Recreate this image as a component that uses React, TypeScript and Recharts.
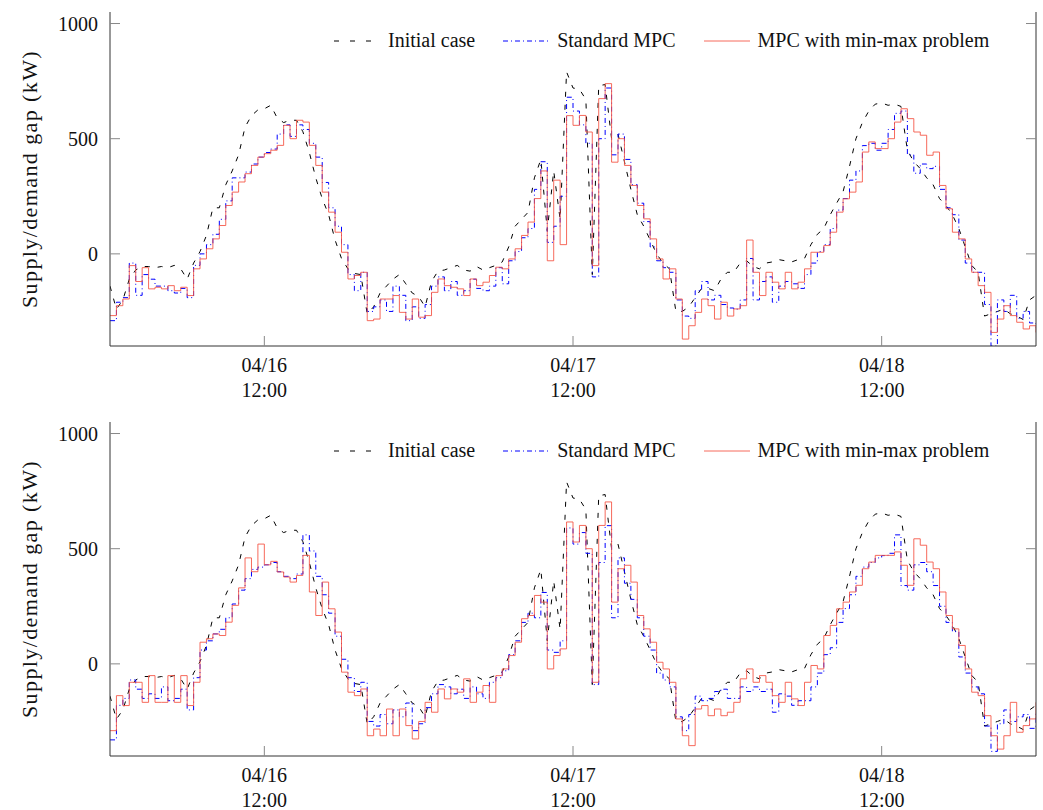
import React from "react";
import { LineChart, Line, XAxis, YAxis, Legend } from "recharts";

// Half-hourly samples, 04/16 00:00 → 04/19 00:00 (145 points)
const initialCase = [
  -140, -240, -200, -110, -70, -55, -55, -60, -55, -60,
  -50, -65, -110, -40, 10, 80, 200, 200, 300, 360,
  430, 550, 600, 625, 630, 645, 590, 570, 580, 580,
  530, 440, 330, 240, 170, 60, -20, -65, -85, -90,
  -260, -230, -170, -140, -110, -90, -130, -170, -185, -230,
  -120, -75, -70, -60, -50, -70, -75, -55, -70, -60,
  -50, -35, 30, 120, 150, 180, 330, 410, 100, 360,
  150, 790, 720, 715, 670, -90, 730, 735, 500, 520,
  400, 280, 170, 120, 60, 0, -40, -65, -250, -250,
  -230, -190, -150, -150, -160, -110, -80, -80, -40, -30,
  -55, -65, -40, -35, -25, -30, -35, -25, -20, 40,
  85, 110, 170, 220, 270, 380, 500, 570, 620, 650,
  655, 645, 650, 640, 450, 400, 370, 330, 300, 240,
  210, 170, 110, 30, -50, -80, -270, -260, -250, -240,
  -260, -270, -285, -200, -180,
];

const standardMpcTop = [
  -290, -210, -190, -40, -180, -90, -110, -140, -140, -160,
  -170, -150, -190, -50, 0, 40, 85, 150, 230, 330,
  330, 355, 390, 420, 440, 455, 520, 560, 510, 560,
  540, 480, 420, 310, 200, 120, 40, -90, -160, -80,
  -250, -230, -200, -250, -140, -180, -290, -230, -280, -220,
  -140, -100, -160, -120, -180, -160, -110, -150, -160, -140,
  -60, -130, -30, 10, 70, 110, 280, 400, 50, 120,
  250, 680, 620, 560, 480, -100, 500, 720, 430, 520,
  410, 300, 220, 140, 30, -30, -60, -80, -200, -270,
  -280, -160, -120, -200, -180, -220, -235, -240, -200, -20,
  -200, -120, -100, -210, -140, -120, -130, -150, -90, -40,
  10, 40, 110, 190, 240, 320, 360, 470, 480, 450,
  480, 540, 610, 620, 430, 350, 390, 370, 380, 280,
  200, 170, 60, -40, -80, -80, -220, -400, -200, -250,
  -180, -280, -250, -300, -320,
];

const minMaxTop = [
  -268, -225, -196, -51, -120, -60, -152, -145, -152, -138,
  -160, -145, -181, -65, -22, 22, 65, 123, 210, 268,
  312, 348, 384, 420, 435, 450, 471, 558, 500, 580,
  572, 471, 384, 268, 181, 94, 7, -109, -94, -80,
  -290, -283, -196, -196, -181, -254, -283, -196, -275, -268,
  -167, -109, -138, -145, -152, -181, -109, -138, -123, -94,
  -58, -65, -22, 22, 80, 138, 240, 360, -30, 320,
  40, 600, 558, 601, 529, -51, 674, 739, 398, 500,
  384, 297, 210, 152, 65, -22, -109, -65, -196, -370,
  -312, -254, -196, -225, -283, -210, -270, -239, -225, 60,
  -80, -181, -80, -123, -152, -80, -152, -123, -65, 7,
  7, 36, 94, 181, 239, 268, 312, 442, 486, 457,
  457, 500, 572, 630, 587, 529, 515, 428, 442, 297,
  196, 94, 65, -22, -80, -138, -167, -341, -283, -225,
  -268, -297, -326, -312, -341,
];

const standardMpcBottom = [
  -330, -180, -150, -70, -110, -150, -130, -150, -100, -160,
  -150, -110, -200, -60, 60, 100, 130, 150, 200, 260,
  320, 370, 410, 420, 430, 440, 400, 380, 370, 390,
  560, 490, 380, 300, 220, 120, 20, -60, -120, -80,
  -250, -270, -220, -260, -200, -230, -170, -290, -260, -190,
  -130, -90, -100, -130, -110, -150, -100, -130, -150, -80,
  -60, -30, 40, 100, 180, 220, 200, 310, 60, 50,
  100, 590, 520, 570, 480, -90, 440, 600, 200, 460,
  350, 280, 200, 120, 60, -40, -70, -100, -230, -290,
  -220, -140, -160, -150, -120, -110, -150, -150, -100, -120,
  -100, -120, -110, -210, -130, -140, -180, -160, -160, -100,
  -40, 40, 70, 180, 240, 300, 380, 420, 440, 460,
  470, 480, 560, 340, 320, 430, 440, 400, 340, 250,
  180, 140, 30, -40, -100, -130, -270, -380, -260, -200,
  -250, -230, -220, -280, -210,
];

const minMaxBottom = [
  -290, -138, -181, -80, -80, -167, -51, -167, -167, -51,
  -167, -51, -181, -80, 94, 109, 130, 123, 181, 254,
  330, 460, 400, 520, 430, 445, 399, 377, 355, 384,
  471, 312, 210, 355, 239, 138, -36, -123, -138, -109,
  -312, -283, -312, -196, -312, -196, -268, -326, -250, -167,
  -210, -109, -152, -109, -123, -65, -167, -123, -94, -167,
  -51, -22, 36, 94, 196, 210, 297, 268, -22, 36,
  65, 616, 529, 601, 500, -80, 601, 703, 268, 413,
  428, 355, 210, 152, 94, 7, -22, -80, -239, -312,
  -355, -196, -181, -225, -196, -225, -210, -167, -65, -22,
  -80, -51, -80, -138, -167, -80, -152, -181, -80, -7,
  -22, 123, 167, 239, 268, 312, 341, 413, 442, 471,
  471, 471, 486, 428, 341, 543, 515, 442, 413, 312,
  210, 152, 80, -22, -123, -138, -225, -312, -370, -312,
  -167, -297, -268, -239, -167,
];

// time axis in hours since 04/16 00:00
const hours = initialCase.map((_, i) => i / 2);

const tickHours = [12, 36, 60];
const tickDates = ["04/16", "04/17", "04/18"];
const tickTimes = ["12:00", "12:00", "12:00"];
const valueTicks = [0, 500, 1000];

const seriesNames = ["Initial case", "Standard MPC", "MPC with min-max problem"];

const rows = hours.map((hour, i) => ({
  hour,
  initial: initialCase[i],
  mpcTop: standardMpcTop[i],
  minmaxTop: minMaxTop[i],
  mpcBottom: standardMpcBottom[i],
  minmaxBottom: minMaxBottom[i],
}));

const FONT = "'Liberation Serif', 'DejaVu Serif', serif";
const TEXT = "#111";
const FRAME = "#333";
const TICK = "#888";
const TICK_LEN = 10;

const styles = [
  { stroke: "#000000", dash: "5 8", legendDash: "5 11", opacity: 1 },
  { stroke: "#0000ff", dash: "5 3 1 3", legendDash: "5 3 1 3", opacity: 1 },
  { stroke: "#f4503f", dash: undefined, legendDash: undefined, opacity: 0.85 },
];

const ValueTick = ({ x, y, payload }: any) => (
  <g>
    <line x1={x} x2={x + TICK_LEN} y1={y} y2={y} stroke={TICK} />
    <text x={x - 12} y={y} dy="0.35em" textAnchor="end" fontSize={20} fontFamily={FONT} fill={TEXT}>
      {payload.value}
    </text>
  </g>
);

const RightTick = ({ x, y }: any) => (
  <line x1={x - TICK_LEN} x2={x} y1={y} y2={y} stroke={TICK} />
);

const TopTick = ({ x, y }: any) => (
  <line x1={x} x2={x} y1={y} y2={y + TICK_LEN} stroke={TICK} />
);

const TimeTick = ({ x, y, payload }: any) => {
  const i = tickHours.indexOf(payload.value);
  return (
    <g>
      <line x1={x} x2={x} y1={y - TICK_LEN} y2={y} stroke={TICK} />
      <text x={x} y={y + 26} textAnchor="middle" fontSize={20} fontFamily={FONT} fill={TEXT}>
        {tickDates[i]}
      </text>
      <text x={x} y={y + 51} textAnchor="middle" fontSize={20} fontFamily={FONT} fill={TEXT}>
        {tickTimes[i]}
      </text>
    </g>
  );
};

const LegendBox = () => (
  <div style={{ display: "flex", alignItems: "center", fontFamily: FONT, fontSize: 20, color: TEXT, whiteSpace: "nowrap" }}>
    {seriesNames.map((name, i) => (
      <div key={name} style={{ display: "flex", alignItems: "center", marginRight: 28 }}>
        <svg width={46} height={12} style={{ marginRight: 8 }}>
          <line x1={0} x2={46} y1={6} y2={6} stroke={styles[i].stroke} strokeOpacity={styles[i].opacity} strokeDasharray={styles[i].legendDash} />
        </svg>
        <span>{name}</span>
      </div>
    ))}
  </div>
);

const YLabel = ({ viewBox }: any) => {
  const cy = viewBox.y + viewBox.height / 2;
  return (
    <text
      x={29}
      y={cy}
      transform={`rotate(-90 29 ${cy})`}
      textAnchor="middle"
      dominantBaseline="central"
      fontSize={22}
      letterSpacing={1.4}
      fontFamily={FONT}
      fill={TEXT}
    >
      Supply/demand gap (kW)
    </text>
  );
};

const Panel = ({ mpcKey, minmaxKey, height }: { mpcKey: string; minmaxKey: string; height: number }) => (
  <LineChart width={1043} height={height} data={rows} margin={{ top: 12, right: 0, bottom: 0, left: 0 }}>
    <XAxis
      dataKey="hour"
      type="number"
      domain={[0, 72]}
      ticks={tickHours}
      interval={0}
      height={height - 346}
      tickSize={0}
      tickMargin={0}
      tickLine={false}
      axisLine={{ stroke: FRAME }}
      tick={<TimeTick />}
      allowDataOverflow
    />
    <XAxis
      xAxisId="top"
      orientation="top"
      dataKey="hour"
      type="number"
      domain={[0, 72]}
      ticks={tickHours}
      interval={0}
      height={0}
      tickSize={0}
      tickMargin={0}
      tickLine={false}
      axisLine={{ stroke: FRAME }}
      tick={<TopTick />}
      allowDataOverflow
    />
    <YAxis
      type="number"
      domain={[-400, 1050]}
      ticks={valueTicks}
      interval={0}
      width={110}
      tickSize={0}
      tickMargin={0}
      tickLine={false}
      axisLine={{ stroke: FRAME }}
      tick={<ValueTick />}
      label={<YLabel />}
      allowDataOverflow
    />
    <YAxis
      yAxisId="right"
      orientation="right"
      type="number"
      domain={[-400, 1050]}
      ticks={valueTicks}
      interval={0}
      width={7}
      tickSize={0}
      tickMargin={0}
      tickLine={false}
      axisLine={{ stroke: FRAME }}
      tick={<RightTick />}
      allowDataOverflow
    />
    <Legend
      layout="horizontal"
      verticalAlign="middle"
      align="center"
      wrapperStyle={{ top: 29, left: 334, width: "auto", height: "auto" }}
      content={<LegendBox />}
    />
    <Line
      dataKey="initial"
      type="linear"
      stroke={styles[0].stroke}
      strokeDasharray={styles[0].dash}
      strokeWidth={1}
      dot={false}
      isAnimationActive={false}
    />
    <Line
      dataKey={mpcKey}
      type="stepAfter"
      stroke={styles[1].stroke}
      strokeDasharray={styles[1].dash}
      strokeWidth={1}
      dot={false}
      isAnimationActive={false}
    />
    <Line
      dataKey={minmaxKey}
      type="stepAfter"
      stroke={styles[2].stroke}
      strokeOpacity={styles[2].opacity}
      strokeWidth={1}
      dot={false}
      isAnimationActive={false}
    />
  </LineChart>
);

export default function App() {
  return (
    <div style={{ position: "absolute", left: 0, top: 0, width: 1043, height: 810, background: "#fff" }}>
      <div style={{ position: "absolute", left: 0, top: 0 }}>
        <Panel mpcKey="mpcTop" minmaxKey="minmaxTop" height={410} />
      </div>
      <div style={{ position: "absolute", left: 0, top: 410 }}>
        <Panel mpcKey="mpcBottom" minmaxKey="minmaxBottom" height={400} />
      </div>
    </div>
  );
}
